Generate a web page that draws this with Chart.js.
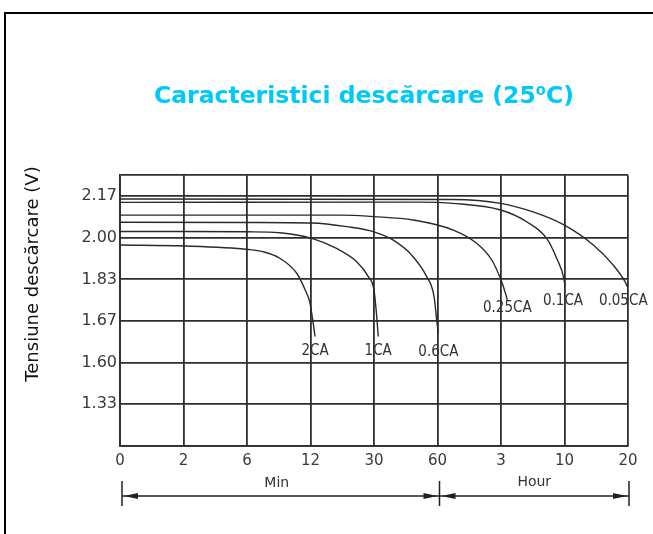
<!DOCTYPE html>
<html><head><meta charset="utf-8">
<script src="https://cdn.jsdelivr.net/npm/chart.js@4.4.1/dist/chart.umd.min.js"></script>
<style>
html,body{margin:0;padding:0;background:#fff;overflow:hidden;}
#wrap{position:relative;width:653px;height:534px;}
#frame{position:absolute;left:4px;top:12px;width:680px;height:560px;border-top:2px solid #000;border-left:2px solid #000;box-sizing:border-box;}
canvas{position:absolute;left:0;top:0;}
</style></head><body>
<div id="wrap"><div id="frame"></div><canvas id="c" width="653" height="534"></canvas></div>
<script>
// ---- data (time in minutes, voltage in V) ----
const xLabels = ['0','2','6','12','30','60','3','10','20'];
const xMinutes = [0, 2, 6, 12, 30, 60, 180, 600, 1200];
const yLabels = ['1.33','1.60','1.67','1.83','2.00','2.17'];
const yVolts = [1.33, 1.60, 1.67, 1.83, 2.00, 2.17];
const seriesNames = ['2CA','1CA','0.6CA','0.25CA','0.1CA','0.05CA'];
const rangeLabels = ['Min','Hour'];
const rangeBounds = ['0','60','20'];
const titleText = 'Caracteristici descărcare (25⁰C)';
const yTitle = 'Tensiune descărcare (V)';

const t2CA = [0, 2.08, 6.12, 7.5, 9.1, 10.7, 11.5, 11.95, 12.63, 13.28];
const v2CA = [1.970, 1.966, 1.952, 1.943, 1.916, 1.855, 1.789, 1.739, 1.674, 1.644];
const t1CA = [0, 2, 6.1, 9.1, 12.34, 19.4, 25.1, 28.4, 30, 31.3, 32.0];
const v1CA = [2.025, 2.025, 2.024, 2.020, 1.997, 1.956, 1.902, 1.841, 1.789, 1.686, 1.644];
const t06CA = [0, 6.28, 12.34, 22.3, 30, 39.1, 47.8, 54.9, 58.4, 59.6, 61.6];
const v06CA = [2.063, 2.062, 2.060, 2.045, 2.024, 1.990, 1.929, 1.841, 1.763, 1.674, 1.650];
const t025CA = [0, 20.4, 30, 48.6, 89.9, 134, 162.5, 179.4, 206.5, 221.6];
const v025CA = [2.092, 2.092, 2.086, 2.072, 2.031, 1.977, 1.909, 1.831, 1.782, 1.751];
const t01CA = [0, 51.7, 89.3, 179.4, 350, 482, 548, 596.6, 604.8];
const v01CA = [2.144, 2.145, 2.140, 2.113, 2.065, 1.997, 1.916, 1.831, 1.802];
const t005CA = [0, 89.3, 179.4, 391.7, 596.6, 872, 1061, 1172, 1193];
const v005CA = [2.158, 2.156, 2.140, 2.105, 2.052, 1.970, 1.888, 1.821, 1.802];

const seriesTimes = [t2CA, t1CA, t06CA, t025CA, t01CA, t005CA];
const seriesVolts = [v2CA, v1CA, v06CA, v025CA, v01CA, v005CA];

// piecewise mapping of real values onto the evenly spaced axis positions
function interp(val, src, base) {
  let i = 0;
  while (i < src.length - 2 && val > src[i + 1]) i++;
  return base + i + (val - src[i]) / (src[i + 1] - src[i]);
}
const timeToPos = m => interp(m, xMinutes, 0);
const voltToPos = v => interp(v, yVolts, 1);

const LINE = '#2a2a2a';
const GRID = '#2e2e2e';

const datasets = seriesNames.map((name, k) => ({
  label: name,
  data: seriesTimes[k].map((m, i) => ({x: timeToPos(m), y: voltToPos(seriesVolts[k][i])})),
  showLine: true,
  borderColor: LINE,
  borderWidth: 1.4,
  pointRadius: 0,
  fill: false,
  cubicInterpolationMode: 'monotone'
}));

const curveLabels = {
  id: 'curveLabels',
  afterDatasetsDraw(chart, args, opts) {
    const ctx = chart.ctx;
    ctx.save();
    ctx.font = "15px 'DejaVu Sans Condensed', 'DejaVu Sans'";
    ctx.fillStyle = '#333';
    ctx.textAlign = 'center';
    ctx.textBaseline = 'middle';
    chart.data.datasets.forEach((ds, k) => {
      const meta = chart.getDatasetMeta(k);
      const last = meta.data[meta.data.length - 1];
      const off = opts.offsets[k];
      ctx.fillText(ds.label, last.x + off[0], last.y + off[1]);
    });
    ctx.restore();
  }
};

const extras = {
  id: 'extras',
  afterLayout(chart) {
    const t = chart.titleBlock;
    if (t) { t.left = 75; t.right = 653; }
  },
  afterDraw(chart) {
    const ctx = chart.ctx;
    const xs = chart.scales.x;
    const ca = chart.chartArea;
    ctx.save();
    // y-axis title
    ctx.font = "18px 'DejaVu Sans'";
    ctx.fillStyle = '#111';
    ctx.textAlign = 'center';
    ctx.textBaseline = 'middle';
    ctx.translate(33, 274);
    ctx.rotate(-Math.PI / 2);
    ctx.fillText(yTitle, 0, 0);
    ctx.restore();

    // Min / Hour ranges
    const idx = rangeBounds.map(l => xLabels.indexOf(l));
    const px = idx.map((i, n) => xs.getPixelForValue(i) + (n < 2 ? 2 : 1));
    const yLine = ca.bottom + 50;
    ctx.save();
    ctx.strokeStyle = '#222';
    ctx.fillStyle = '#222';
    ctx.lineWidth = 1.5;
    ctx.beginPath();
    ctx.moveTo(px[0], yLine); ctx.lineTo(px[2], yLine);
    px.forEach(x => { ctx.moveTo(x, yLine - 15); ctx.lineTo(x, yLine + 10); });
    ctx.stroke();
    const arrow = (tip, dir) => {
      ctx.beginPath();
      ctx.moveTo(tip, yLine);
      ctx.lineTo(tip - dir * 14, yLine - 3);
      ctx.lineTo(tip - dir * 14, yLine + 3);
      ctx.closePath();
      ctx.fill();
    };
    arrow(px[0] + 2, -1); arrow(px[1] - 2, 1); arrow(px[1] + 2, -1); arrow(px[2] - 2, 1);
    ctx.font = "14px 'DejaVu Sans'";
    ctx.fillStyle = '#333';
    ctx.textAlign = 'center';
    ctx.textBaseline = 'middle';
    ctx.fillText(rangeLabels[0], (px[0] + px[1]) / 2 - 4, yLine - 13);
    ctx.fillText(rangeLabels[1], (px[1] + px[2]) / 2, yLine - 14);
    ctx.restore();
  }
};

Chart.defaults.font.family = "'DejaVu Sans'";

new Chart(document.getElementById('c'), {
  type: 'scatter',
  data: {datasets},
  options: {
    responsive: false,
    animation: false,
    devicePixelRatio: 1,
    layout: {padding: {left: 0, right: 25, top: 0, bottom: 0}},
    plugins: {
      legend: {display: false},
      tooltip: {enabled: false},
      title: {
        display: true,
        text: titleText,
        color: '#00c8fa',
        font: {family: "'DejaVu Sans'", size: 23.5, weight: 'bold', lineHeight: 1.2},
        padding: {top: 83, bottom: 64}
      },
      curveLabels: {offsets: [[0, 15], [0, 15], [0, 19], [0, 8], [-2, 14], [-4, 14]]}
    },
    scales: {
      x: {
        type: 'linear', min: 0, max: 8,
        afterBuildTicks: s => { s.ticks = xLabels.map((_, i) => ({value: i})); },
        afterFit: s => { s.height = 88; },
        ticks: {callback: v => xLabels[v], autoSkip: false, maxRotation: 0, padding: 6,
                color: '#3a3a3a', font: {size: 15}},
        grid: {color: GRID, lineWidth: 1.8, drawTicks: false},
        border: {display: true, color: GRID, width: 1.8}
      },
      y: {
        type: 'linear', min: 0, max: 6.5,
        afterBuildTicks: s => { s.ticks = [0, 1, 2, 3, 4, 5, 6, 6.5].map(value => ({value})); },
        afterFit: s => { s.width = 120; },
        ticks: {callback: v => (Number.isInteger(v) && v >= 1) ? yLabels[v - 1] : '',
                autoSkip: false, padding: 3, color: '#3a3a3a', font: {size: 16}},
        grid: {color: GRID, lineWidth: 1.8, drawTicks: false},
        border: {display: true, color: GRID, width: 1.8}
      }
    }
  },
  plugins: [curveLabels, extras]
});
</script>
</body></html>
